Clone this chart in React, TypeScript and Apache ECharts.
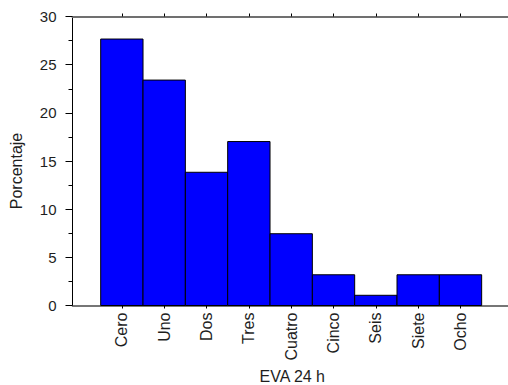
import React, { useEffect, useRef } from "react";
import * as echarts from "echarts";

const categories = ["Cero", "Uno", "Dos", "Tres", "Cuatro", "Cinco", "Seis", "Siete", "Ocho"];
const percentages = [27.66, 23.4, 13.83, 17.02, 7.45, 3.19, 1.06, 3.19, 3.19];
const yTicks = [0, 5, 10, 15, 20, 25, 30];
const positions = categories.map((_, i) => i);

const FONT = '"Liberation Sans", Arial, sans-serif';
const TEXT = "#1e1e1e";

export default function App() {
  const ref = useRef<HTMLDivElement>(null);
  useEffect(() => {
    if (!ref.current) return;
    const chart = echarts.init(ref.current, undefined, { renderer: "svg" });
    const xMin = -1.166;
    const xMax = 9.122;
    chart.setOption({
      animation: false,
      backgroundColor: "#ffffff",
      textStyle: { fontFamily: FONT },
      grid: { left: 72.5, top: 16.5, right: 0, bottom: 79.5, containLabel: false, outerBoundsMode: "none" },
      xAxis: [
        {
          type: "value",
          position: "bottom",
          min: xMin,
          max: xMax,
          splitLine: { show: false },
          axisLine: { show: true, onZero: false, lineStyle: { color: "#4a4a4a", width: 1.5 } },
          axisTick: { show: true, inside: false, length: 3, customValues: positions, lineStyle: { color: "#000" } },
          axisLabel: {
            show: true,
            rotate: 90,
            margin: 7,
            fontSize: 16,
            color: TEXT,
            fontFamily: FONT,
            customValues: positions,
            formatter: (v: number) => categories[Math.round(v)] ?? "",
          },
          name: "EVA 24 h",
          nameLocation: "middle",
          nameGap: 58,
          nameTextStyle: { fontSize: 16, color: TEXT, fontFamily: FONT, padding: [0, 0, 0, 4] },
        },
        {
          type: "value",
          position: "top",
          min: xMin,
          max: xMax,
          splitLine: { show: false },
          axisLine: { show: true, onZero: false, lineStyle: { color: "#707070", width: 2 } },
          axisTick: { show: true, inside: false, length: 3, customValues: positions, lineStyle: { color: "#000" } },
          axisLabel: { show: false },
        },
      ],
      yAxis: {
        type: "value",
        min: 0,
        max: 30,
        interval: 5,
        splitLine: { show: false },
        axisLine: { show: true, onZero: false, lineStyle: { color: "#000", width: 1 } },
        axisTick: { show: true, inside: false, length: 7, lineStyle: { color: "#000" } },
        minorTick: { show: true, splitNumber: 2, length: 4, lineStyle: { color: "#000" } },
        axisLabel: {
          fontSize: 15,
          color: TEXT,
          fontFamily: FONT,
          margin: 16,
          customValues: yTicks,
        },
        name: "Porcentaje",
        nameLocation: "middle",
        nameGap: 48,
        nameTextStyle: { fontSize: 16, color: TEXT, fontFamily: FONT, padding: [0, 20, 0, 0] },
      },
      series: [
        {
          type: "custom",
          xAxisIndex: 0,
          yAxisIndex: 0,
          encode: { x: 0, y: 1 },
          data: positions.map((p, i) => [p, percentages[i]]),
          renderItem: (_params: any, api: any) => {
            const i = api.value(0);
            const v = api.value(1);
            const p1 = api.coord([i - 0.5, v]);
            const p2 = api.coord([i + 0.5, 0]);
            return {
              type: "rect",
              shape: { x: p1[0], y: p1[1], width: p2[0] - p1[0], height: p2[1] - p1[1] },
              style: { fill: "#0000ff", stroke: "#000000", lineWidth: 1 },
            };
          },
        },
      ],
    });
    return () => chart.dispose();
  }, []);
  return (
    <div
      ref={ref}
      style={{ position: "fixed", left: 0, top: 0, width: 508, height: 385, background: "#fff" }}
    />
  );
}
